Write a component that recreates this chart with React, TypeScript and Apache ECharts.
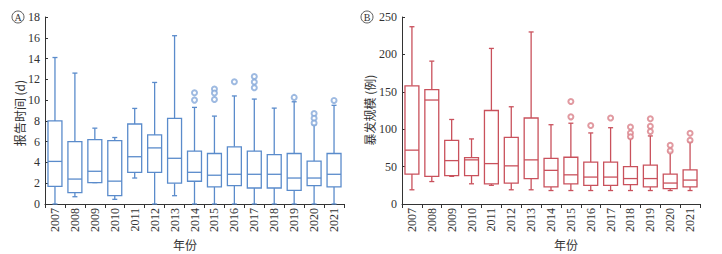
import React, { useEffect, useRef } from "react";
import * as echarts from "echarts";

const years = ["2007", "2008", "2009", "2010", "2011", "2012", "2013", "2014", "2015", "2016", "2017", "2018", "2019", "2020", "2021"];

// Panel A: reporting time (d)
const timeMin = [0, 0.7, 2.06, 0.45, 2.5, 0, 0.8, 0, 0, 0, 0, 0, 0, 0, 0];
const timeQ1 = [1.7, 1.1, 2.06, 0.8, 3.05, 3.05, 2.0, 2.19, 1.64, 1.77, 1.54, 1.54, 1.32, 1.77, 1.64];
const timeMedian = [4.1, 2.4, 3.15, 2.2, 4.55, 5.4, 4.4, 3.05, 2.77, 2.86, 2.86, 2.86, 2.5, 2.5, 2.86];
const timeQ3 = [8.0, 6.0, 6.2, 6.1, 7.7, 6.65, 8.25, 5.08, 4.86, 5.5, 5.08, 4.76, 4.86, 4.12, 4.86];
const timeMax = [14.1, 12.6, 7.3, 6.4, 9.2, 11.7, 16.2, 9.3, 8.46, 10.4, 10.1, 9.23, 9.84, 7.62, 9.5];
const timeOutliers: [string, number][] = [
  ["2014", 10.7], ["2014", 10.0],
  ["2015", 11.06], ["2015", 10.68], ["2015", 10.06],
  ["2016", 11.77],
  ["2017", 12.28], ["2017", 11.74], ["2017", 11.19],
  ["2019", 10.26],
  ["2020", 8.7], ["2020", 8.26], ["2020", 7.8],
  ["2021", 9.97],
];
const timeTicks = { min: 0, max: 18, interval: 2 };

// Panel B: outbreak size (cases)
const sizeMin = [19, 30, 37, 27, 25, 19, 19, 18, 18, 18, 18, 18, 18, 18, 18];
const sizeQ1 = [40, 37, 38, 38, 27, 28, 34, 23, 27, 25, 25, 26, 23, 20.5, 23];
const sizeMedian = [72, 139, 58, 59, 54, 51, 59, 45, 39, 36, 36, 34, 34, 28, 32];
const sizeQ3 = [158, 153, 85, 62, 125, 89, 115, 61, 62.5, 56, 56, 50, 52, 40, 45.5];
const sizeMax = [237, 191, 113, 87, 208, 130, 230, 106, 108, 95, 102, 88, 91, 70, 83];
const sizeOutliers: [string, number][] = [
  ["2015", 137], ["2015", 116.5],
  ["2016", 105],
  ["2017", 115],
  ["2018", 103], ["2018", 95], ["2018", 90],
  ["2019", 114], ["2019", 104], ["2019", 97],
  ["2020", 78.6], ["2020", 71],
  ["2021", 94.6], ["2021", 85.3],
];
const sizeTicks = { min: 0, max: 250, interval: 50 };

const BLUE = "#5a8bcb";
const BLUE_LIGHT = "#86a9da";
const RED = "#c9515c";
const RED_LIGHT = "#d9818a";
const AXIS = "#333";
const SERIF = "'Liberation Serif', 'Times New Roman', serif";
const CJK = "'Noto Sans CJK SC', sans-serif";

function boxData(mn: number[], q1: number[], md: number[], q3: number[], mx: number[]) {
  return years.map((_, i) => [i, mn[i], q1[i], md[i], q3[i], mx[i]]);
}

function makeRenderItem(color: string) {
  return (params: any, api: any) => {
    const idx = api.value(0);
    const pMin = api.coord([idx, api.value(1)]);
    const pQ1 = api.coord([idx, api.value(2)]);
    const pMed = api.coord([idx, api.value(3)]);
    const pQ3 = api.coord([idx, api.value(4)]);
    const pMax = api.coord([idx, api.value(5)]);
    const band = api.size([1, 0])[0];
    const bw = band * 0.7;
    const cw = 5;
    const x = pMed[0];
    const ls = { stroke: color, lineWidth: 1.3, fill: "none" };
    return {
      type: "group",
      children: [
        { type: "line", shape: { x1: x, y1: pQ3[1], x2: x, y2: pMax[1] }, style: ls },
        { type: "line", shape: { x1: x, y1: pQ1[1], x2: x, y2: pMin[1] }, style: ls },
        { type: "line", shape: { x1: x - cw / 2, y1: pMax[1], x2: x + cw / 2, y2: pMax[1] }, style: ls },
        { type: "line", shape: { x1: x - cw / 2, y1: pMin[1], x2: x + cw / 2, y2: pMin[1] }, style: ls },
        {
          type: "rect",
          shape: { x: x - bw / 2, y: pQ3[1], width: bw, height: pQ1[1] - pQ3[1] },
          style: { stroke: color, lineWidth: 1.3, fill: "#fff" },
        },
        { type: "line", shape: { x1: x - bw / 2, y1: pMed[1], x2: x + bw / 2, y2: pMed[1] }, style: ls },
      ],
    };
  };
}

function xAxisCfg(gridIndex: number) {
  return {
    type: "category",
    gridIndex,
    data: years,
    boundaryGap: true,
    axisLine: { lineStyle: { color: AXIS, width: 1 } },
    axisTick: { show: true, inside: false, length: 4, lineStyle: { color: AXIS } },
    axisLabel: { rotate: 90, margin: 4, fontSize: 12, fontFamily: SERIF, color: AXIS, interval: 0 },
    splitLine: { show: false },
  };
}

function yAxisCfg(gridIndex: number, t: { min: number; max: number; interval: number }) {
  return {
    type: "value",
    gridIndex,
    min: t.min,
    max: t.max,
    interval: t.interval,
    axisLine: { show: true, lineStyle: { color: AXIS, width: 1 } },
    axisTick: { show: true, inside: true, length: 3, lineStyle: { color: AXIS } },
    axisLabel: { margin: 5, fontSize: 12, fontFamily: SERIF, color: AXIS },
    splitLine: { show: false },
  };
}

function circledLetter(cx: number, cy: number, letter: string) {
  return [
    { type: "circle", shape: { cx, cy, r: 6 }, style: { fill: "none", stroke: AXIS, lineWidth: 0.8 } },
    {
      type: "text",
      x: cx,
      y: cy + 0.5,
      style: { text: letter, fontSize: 10, fontFamily: SERIF, fill: AXIS, align: "center", verticalAlign: "middle" },
    },
  ];
}

function rotatedTitle(x: number, y: number, text: string) {
  return {
    type: "text",
    x,
    y,
    rotation: Math.PI / 2,
    style: { text, fontSize: 12, fontFamily: CJK, fill: AXIS, align: "center", verticalAlign: "middle" },
  };
}

function flatTitle(x: number, y: number, text: string) {
  return {
    type: "text",
    x,
    y,
    style: { text, fontSize: 12, fontFamily: CJK, fill: AXIS, align: "center", verticalAlign: "middle" },
  };
}

export default function App() {
  const ref = useRef<HTMLDivElement>(null);
  useEffect(() => {
    if (!ref.current) return;
    const chart = echarts.init(ref.current, undefined, { renderer: "svg" });
    chart.setOption({
      animation: false,
      backgroundColor: "#fff",
      grid: [
        { left: 45, top: 17, width: 299, height: 187, containLabel: false },
        { left: 402, top: 17, width: 298, height: 187, containLabel: false },
      ],
      xAxis: [xAxisCfg(0), xAxisCfg(1)],
      yAxis: [yAxisCfg(0, timeTicks), yAxisCfg(1, sizeTicks)],
      series: [
        {
          type: "custom",
          xAxisIndex: 0,
          yAxisIndex: 0,
          renderItem: makeRenderItem(BLUE),
          encode: { x: 0, y: [1, 2, 3, 4, 5] },
          data: boxData(timeMin, timeQ1, timeMedian, timeQ3, timeMax),
          clip: false,
        },
        {
          type: "scatter",
          xAxisIndex: 0,
          yAxisIndex: 0,
          symbol: "emptyCircle",
          symbolSize: 5,
          itemStyle: { color: BLUE_LIGHT, borderWidth: 1.3 },
          data: timeOutliers,
        },
        {
          type: "custom",
          xAxisIndex: 1,
          yAxisIndex: 1,
          renderItem: makeRenderItem(RED),
          encode: { x: 0, y: [1, 2, 3, 4, 5] },
          data: boxData(sizeMin, sizeQ1, sizeMedian, sizeQ3, sizeMax),
          clip: false,
        },
        {
          type: "scatter",
          xAxisIndex: 1,
          yAxisIndex: 1,
          symbol: "emptyCircle",
          symbolSize: 5,
          itemStyle: { color: RED_LIGHT, borderWidth: 1.3 },
          data: sizeOutliers,
        },
      ],
      graphic: [
        ...circledLetter(18, 17, "A"),
        ...circledLetter(367, 17, "B"),
        rotatedTitle(19, 113, "报告时间 (d)"),
        rotatedTitle(369, 110, "暴发规模 (例)"),
        flatTitle(185, 244, "年份"),
        flatTitle(566, 244, "年份"),
      ],
    });
    return () => chart.dispose();
  }, []);
  return <div ref={ref} style={{ position: "fixed", left: 0, top: 0, width: 722, height: 254 }} />;
}
